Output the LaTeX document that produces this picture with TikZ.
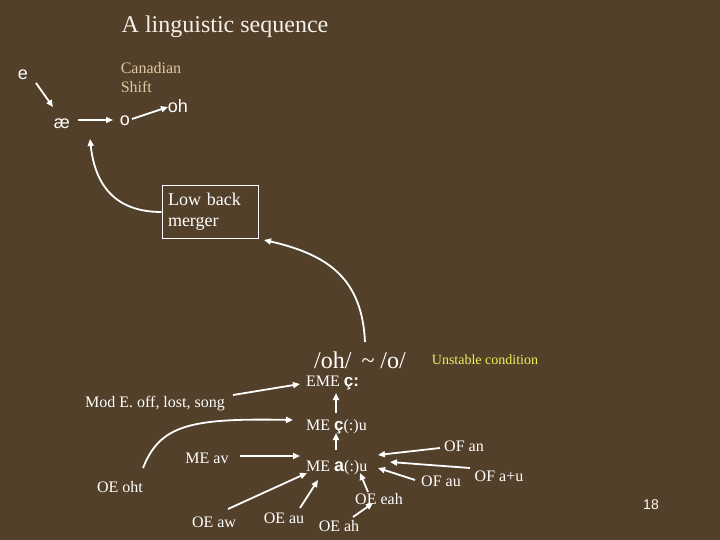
\documentclass[tikz,border=0pt]{standalone}
\usepackage{fontspec}
\setmainfont{Liberation Serif}
\newfontfamily\sansf{Liberation Sans}
\usetikzlibrary{arrows.meta}
\definecolor{bg}{RGB}{83,64,42}
\definecolor{tan}{RGB}{222,200,160}
\definecolor{ylw}{RGB}{240,240,90}
\definecolor{offw}{RGB}{245,240,232}
\newcommand{\fs}[1]{\fontsize{#1}{#1}\selectfont}
\begin{document}
\begin{tikzpicture}[x=1pt,y=-1pt,
  txt/.style={text=white,inner sep=1pt,font=\fs{16}},
  snd/.style={text=white,inner sep=1pt,font=\sansf\fs{18}},
  arr/.style={draw=white,line width=1.8pt,-{Triangle[length=7pt,width=6pt]}},
  ln/.style={draw=white,line width=1.8pt}]
\fill[bg] (0,0) rectangle (720,540);
\useasboundingbox (0,0) rectangle (720,540);

\node[text=offw,font=\fs{24}] (title) at (225,27) {A linguistic sequence};
\node[snd] (e) at (23,75) {e};
\node[text=tan,font=\fontsize{16}{19}\selectfont,align=left,inner sep=0pt] (cs) at (151,78) {Canadian\\Shift};
\node[snd] (ae) at (62,124) {æ};
\node[snd] (o) at (125,121) {o};
\node[snd] (oh) at (178,106) {oh};
\node[draw=white,line width=1pt,text=white,font=\fontsize{18}{21}\selectfont,align=left,text width=84pt,inner sep=6pt,minimum height=52pt] (lbm) at (210,212) {Low back\\merger};
\node[txt,font=\fs{24}] (ohbar) at (360,360) {/oh/ \,\textasciitilde\ /o/};
\node[text=ylw,font=\fs{14},inner sep=1pt] (unst) at (485,360) {Unstable condition};
\node[txt,anchor=west] (eme) at (305,383) {EME {\sansf\bfseries\fs{17}ç:}};
\node[txt] (mod) at (155,404) {Mod E. off, lost, song};
\node[txt,anchor=west] (mec) at (305,427) {ME {\sansf\bfseries\fs{17}ç}(:)u};
\node[txt] (meav) at (207,458) {ME av};
\node[txt,anchor=west] (mea) at (305,468) {ME {\sansf\bfseries\fs{18}a}(:)u};
\node[txt] (oeoht) at (120,487) {OE oht};
\node[txt] (oeaw) at (214,522) {OE aw};
\node[txt] (oeau) at (284,518) {OE au};
\node[txt] (oeah) at (339,526) {OE ah};
\node[txt] (oeeah) at (379,499) {OE eah};
\node[txt] (ofan) at (464,446) {OF an};
\node[txt] (ofau) at (441,481) {OF au};
\node[txt] (ofapu) at (499,476) {OF a+u};
\node[text=white,font=\sansf\fs{14},inner sep=1pt] (pg) at (651,505) {18};

\draw[arr] ([shift={(13,8)}]e.center) -- ([shift={(-9,-17)}]ae.center);
\draw[arr] ([shift={(16,-4)}]ae.center) -- ([shift={(-12,-1)}]o.center);
\draw[arr] ([shift={(7,-2)}]o.center) -- ([shift={(-10,1)}]oh.center);
\draw[arr] (lbm.west) .. controls (115,212) and (95,185) .. ([shift={(28,15)}]ae.center);
\draw[arr] ([shift={(5,-18)}]ohbar.center) .. controls (362,280) and (330,255) .. ([shift={(54,28)}]lbm.center);
\draw[arr] ([shift={(78,-9)}]mod.center) -- ([shift={(-5,1)}]eme.west);
\draw[arr] ([shift={(31,-14)}]mec.west) -- ([shift={(31,10)}]eme.west);
\draw[arr] ([shift={(31,-18)}]mea.west) -- ([shift={(31,6)}]mec.west);
\draw[arr] ([shift={(23,-19)}]oeoht.center) .. controls (160,425) and (190,418) .. ([shift={(-12,-7)}]mec.west);
\draw[arr] ([shift={(33,-2)}]meav.center) -- ([shift={(-5,-12)}]mea.west);
\draw[arr] ([shift={(14,-13)}]oeaw.center) -- ([shift={(2,5)}]mea.west);
\draw[arr] ([shift={(16,-10)}]oeau.center) -- ([shift={(13,12)}]mea.west);
\draw[arr] ([shift={(14,-9)}]oeah.center) -- ([shift={(-6,4)}]oeeah.center);
\draw[arr] ([shift={(-11,-7)}]oeeah.center) -- ([shift={(55,5)}]mea.west);
\draw[arr] ([shift={(-24,2)}]ofan.center) -- ([shift={(73,-13)}]mea.west);
\draw[arr] ([shift={(-29,-8)}]ofapu.center) -- ([shift={(85,-6)}]mea.west);
\draw[arr] ([shift={(-26,-1)}]ofau.center) -- ([shift={(73,0)}]mea.west);
\end{tikzpicture}
\end{document}
